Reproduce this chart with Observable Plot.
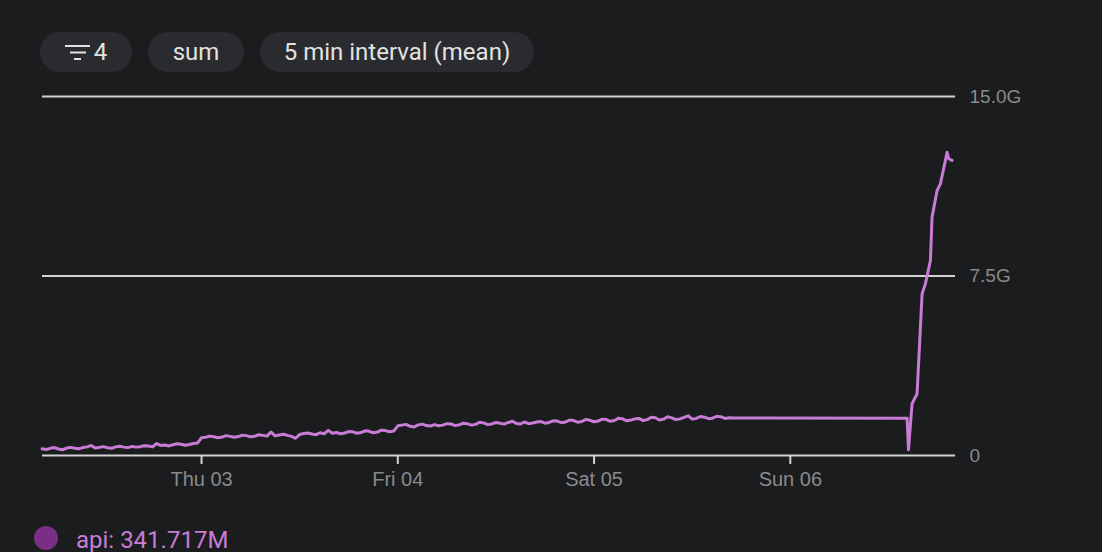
<!DOCTYPE html>
<html><head><meta charset="utf-8">
<script src="https://cdn.jsdelivr.net/npm/d3@7"></script>
<script src="https://cdn.jsdelivr.net/npm/@observablehq/plot@0.6"></script>
<style>
html,body{margin:0;padding:0;background:#1b1c1e;width:1102px;height:552px;overflow:hidden;}
#wrap{position:relative;width:1102px;height:552px;}
.chip{position:absolute;top:32px;height:40px;border-radius:20px;background:#2a2b2e;color:#e2e2e2;font-family:Roboto,sans-serif;font-size:24px;display:flex;align-items:center;justify-content:center;box-sizing:border-box;}
#chart{position:absolute;left:0;top:0;}
#legend{position:absolute;left:34px;top:524px;display:flex;align-items:center;font-family:Roboto,sans-serif;font-size:24px;color:#c77dd6;}
#legend .dot{width:24px;height:24px;border-radius:50%;background:#7a2e86;margin-right:18px;}
#legend span{position:relative;top:2px;}
</style></head>
<body><div id="wrap"></div>
<script>
// ---- data ----
const chipLabels = ["4", "sum", "5 min interval (mean)"];
const seriesName = "api";
const legendValue = "341.717M";
const yTicks = [0, 7.5, 15];
const yTickLabels = ["0", "7.5G", "15.0G"];
const dayTicks = ["2024-10-03", "2024-10-04", "2024-10-05", "2024-10-06"];
const xDomain = ["2024-10-02T04:33Z", "2024-10-06T20:12Z"];
// hourly samples (G) starting Wed 02 04:30 UTC
const hourlyStart = "2024-10-02T04:30Z";
const hourlyValues = [
  0.28,0.30,0.27,0.31,0.30,0.33,0.42,0.34,0.32,0.36,0.35,0.38,
  0.37,0.40,0.50,0.44,0.45,0.47,0.46,0.52,0.76,0.78,0.77,0.80,
  0.79,0.83,0.80,0.84,0.98,0.86,0.84,0.72,0.92,0.90,0.95,1.05,
  0.96,0.94,0.99,0.96,1.01,0.98,1.04,1.02,1.27,1.22,1.28,1.25,
  1.29,1.27,1.32,1.28,1.33,1.30,1.36,1.32,1.35,1.38,1.34,1.40,
  1.36,1.42,1.38,1.44,1.40,1.46,1.42,1.47,1.44,1.50,1.46,1.53,
  1.48,1.55,1.50,1.58,1.52,1.57,1.53,1.66,1.55,1.60,1.56,1.62,
  1.58
];
// samples on the hour in between (Wed 02 05:00 UTC onward)
const midValues = [
  0.25,0.33,0.24,0.34,0.28,0.36,0.31,0.37,0.30,0.39,0.33,0.35,
  0.41,0.36,0.42,0.40,0.49,0.43,0.50,0.74,0.81,0.74,0.83,0.76,
  0.85,0.78,0.87,0.81,0.82,0.89,0.80,0.88,0.94,0.87,0.91,0.93,
  0.91,1.00,0.93,1.03,0.95,1.06,0.99,1.24,1.30,1.19,1.31,1.23,
  1.24,1.33,1.25,1.35,1.27,1.39,1.29,1.38,1.31,1.43,1.32,1.33,
  1.40,1.35,1.45,1.37,1.48,1.39,1.51,1.41,1.52,1.43,1.56,1.45,
  1.53,1.46,1.60,1.48,1.62,1.50,1.59,1.52,1.63,1.54,1.64,1.55
];
const tailTimes = [
  "2024-10-05T17:18Z","2024-10-06T14:17Z","2024-10-06T14:27Z","2024-10-06T14:53Z",
  "2024-10-06T15:30Z","2024-10-06T16:07Z","2024-10-06T16:31Z","2024-10-06T17:08Z",
  "2024-10-06T17:20Z","2024-10-06T17:57Z","2024-10-06T18:21Z","2024-10-06T18:58Z",
  "2024-10-06T19:10Z","2024-10-06T19:22Z","2024-10-06T19:47Z"
];
const tailValues = [1.57,1.56,0.24,2.16,2.58,6.76,7.17,8.15,9.96,11.07,11.35,12.33,12.67,12.40,12.33];

// ---- build ----
const t0 = new Date(hourlyStart);
const noisy = hourlyValues.map((v, i) => ({t: d3.utcHour.offset(t0, i), v}))
  .concat(midValues.map((v, i) => ({t: d3.utcMinute.offset(d3.utcHour.offset(t0, i), 30), v})))
  .sort((a, b) => a.t - b.t);
const series = noisy.concat(tailTimes.map((t, i) => ({t: new Date(t), v: tailValues[i]})));

const wrap = document.getElementById("wrap");

const chipBoxes = [[40, 92], [148, 96], [260, 274]];
chipLabels.forEach((lab, i) => {
  const c = document.createElement("div");
  c.className = "chip";
  c.style.left = chipBoxes[i][0] + "px";
  c.style.width = chipBoxes[i][1] + "px";
  if (i === 0) {
    c.innerHTML = '<svg width="26" height="16" style="margin-right:3px;margin-top:1px"><rect x="0" y="0" width="25" height="2" fill="#e2e2e2"/><rect x="5" y="6.5" width="16" height="2" fill="#e2e2e2"/><rect x="9" y="13" width="7" height="2" fill="#e2e2e2"/></svg><span>' + lab + '</span>';
  } else {
    c.textContent = lab;
  }
  wrap.appendChild(c);
});

const chart = Plot.plot({
  width: 1102, height: 500,
  marginLeft: 42, marginRight: 147, marginTop: 96, marginBottom: 45,
  style: {background: "transparent", color: "#8a8a8a", fontFamily: "'Liberation Sans', Arial, sans-serif", fontSize: "20px"},
  x: {type: "utc", domain: xDomain.map(d => new Date(d))},
  y: {domain: [0, 15]},
  marks: [
    Plot.ruleY(yTicks, {stroke: "#d2d2d2", strokeWidth: 2}),
    Plot.axisX({ticks: dayTicks.map(d => new Date(d)), tickFormat: d3.utcFormat("%a %d"), tickSize: 9, tickPadding: 7, stroke: "#d2d2d2", strokeWidth: 2, fill: "#8a8a8a", label: null}),
    Plot.axisY({anchor: "right", ticks: yTicks, tickSize: 0, tickPadding: 14, tickFormat: (d) => yTickLabels[yTicks.indexOf(d)], fill: "#8a8a8a", fontSize: 19, label: null}),
    Plot.lineY(series, {x: "t", y: "v", stroke: "#c87cd6", strokeWidth: 3, strokeLinejoin: "round"})
  ]
});
chart.id = "chart";
wrap.appendChild(chart);

const leg = document.createElement("div");
leg.id = "legend";
leg.innerHTML = '<div class="dot"></div><span></span>';
leg.querySelector("span").textContent = seriesName + ": " + legendValue;
wrap.appendChild(leg);
</script>
</body></html>
